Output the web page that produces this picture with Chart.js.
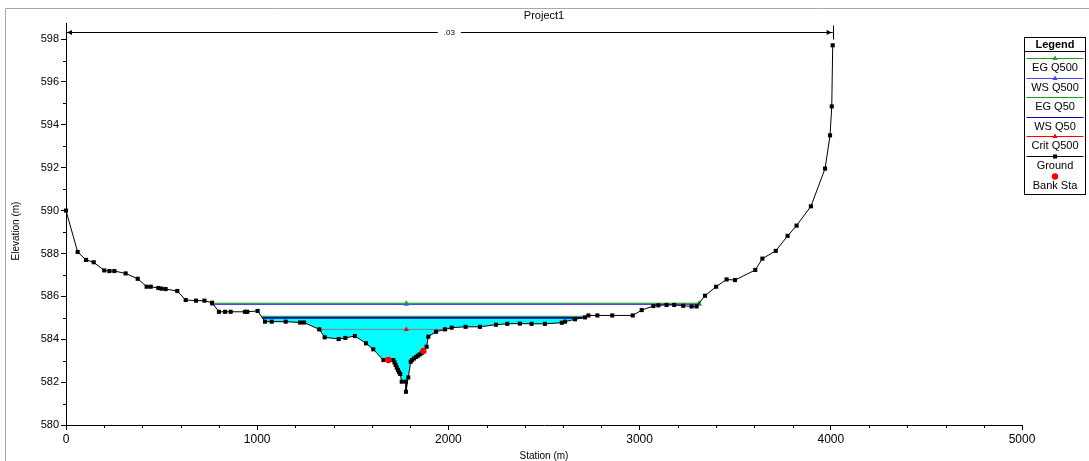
<!DOCTYPE html>
<html>
<head>
<meta charset="utf-8">
<title>Project1</title>
<script src="https://cdn.jsdelivr.net/npm/chart.js@4.4.1/dist/chart.umd.min.js"></script>
<style>
  html, body { margin: 0; padding: 0; background: #fff; }
  #wrap { width: 1089px; height: 461px; }
</style>
</head>
<body>
<div id="wrap"><canvas id="xsChart" width="1089" height="461"></canvas></div>
<script>
// cross section: ground survey (station m, elevation m)
const groundSta = [
  0, 61, 105, 145, 200, 227, 253, 312, 375, 422, 443, 483, 500, 521, 582, 626,
  680, 724, 764, 800, 832, 861, 936, 948, 1002, 1041, 1076, 1149, 1224, 1245,
  1325, 1353, 1426, 1461, 1511, 1569, 1607, 1660, 1686, 1712, 1718, 1724, 1730,
  1736, 1742, 1748, 1756, 1778, 1778, 1790, 1803, 1810, 1820, 1830, 1840, 1850,
  1860, 1869, 1886, 1895, 1935, 1982, 2017, 2090, 2165, 2249, 2308, 2374, 2435,
  2505, 2593, 2610, 2662, 2714, 2732, 2779, 2857, 2964, 3011, 3072, 3098, 3141,
  3181, 3228, 3272, 3298, 3342, 3400, 3455, 3499, 3605, 3642, 3712, 3774, 3821,
  3896, 3970, 3996, 4005, 4010
];
const groundElev = [
  590.00, 588.07, 587.70, 587.59, 587.21, 587.18, 587.18, 587.07, 586.82, 586.45,
  586.45, 586.39, 586.36, 586.34, 586.25, 585.83, 585.80, 585.80, 585.70, 585.28,
  585.28, 585.28, 585.28, 585.28, 585.32, 584.82, 584.82, 584.82, 584.78, 584.78,
  584.46, 584.09, 584.01, 584.06, 584.15, 583.81, 583.53, 583.03, 583.03, 583.03,
  582.92, 582.80, 582.68, 582.57, 582.47, 582.38, 582.02, 582.02, 581.55, 582.22,
  582.95, 583.03, 583.10, 583.17, 583.23, 583.29, 583.35, 583.45, 583.65, 584.12,
  584.35, 584.46, 584.54, 584.58, 584.58, 584.68, 584.72, 584.73, 584.72, 584.72,
  584.77, 584.82, 584.93, 585.02, 585.11, 585.11, 585.11, 585.11, 585.36, 585.55,
  585.58, 585.60, 585.60, 585.56, 585.53, 585.53, 586.03, 586.45, 586.79, 586.76,
  587.23, 587.76, 588.12, 588.82, 589.30, 590.20, 591.96, 593.51, 594.86, 597.71
];

// bank stations
const bankSta = [1686, 1869];
const bankElev = [583.03, 583.45];

// water surface profiles
const egQ500Sta = [767, 1780, 3311];
const egQ500Elev = 585.68;
const wsQ500Sta = [767, 1780, 3311];
const wsQ500Elev = 585.63;
const egQ50Sta = [1022, 2706];
const egQ50Elev = 585.07;
const wsQ50Sta = [1027, 2702];
const wsQ50Elev = 585.0;
const critQ500Sta = [1325, 1780, 1982];
const critQ500Elev = 584.46;

// Manning's n band across the top
const nLabels = ['.03'];
const nSta = [0, 4010];
const nElev = 598.35;

const xTicks = [0, 1000, 2000, 3000, 4000, 5000];
const yTicks = [580, 582, 584, 586, 588, 590, 592, 594, 596, 598];

const FONT = '"Liberation Sans", Arial, sans-serif';
const NARROW = '"Liberation Sans Narrow", "Liberation Sans", Arial, sans-serif';

const xy = (xs, ys) => xs.map((x, i) => ({ x: x, y: Array.isArray(ys) ? ys[i] : ys }));

// wetted area under WS Q50: along the water line, then back along the ground
const waterPoly = xy(wsQ50Sta, wsQ50Elev);
for (let i = groundSta.length - 1; i >= 0; i--) {
  if (groundSta[i] > wsQ50Sta[0] && groundSta[i] < wsQ50Sta[1]) {
    waterPoly.push({ x: groundSta[i], y: groundElev[i] });
  }
}

const green = '#18a018';
const blue = '#4646ff';
const darkBlue = '#0000c0';
const red = '#ff0000';

const datasets = [
  { label: 'Bank Sta', data: xy(bankSta, bankElev), showLine: false, pointStyle: 'circle',
    pointRadius: 3.2, backgroundColor: red, borderColor: red, pointBorderWidth: 0, order: 0,
    legend: { marker: 'circle', line: false, idx: 6 } },
  { label: 'Ground', data: xy(groundSta, groundElev), showLine: true, borderColor: '#000',
    borderWidth: 1, pointStyle: 'rect', pointRadius: 2.9, backgroundColor: '#000',
    pointBorderWidth: 0, clip: false, order: 1, legend: { marker: 'rect', line: true, idx: 5 } },
  { label: 'EG Q500', data: xy(egQ500Sta, egQ500Elev), showLine: true, borderColor: green,
    borderWidth: 1, pointStyle: 'triangle', pointRadius: 3, backgroundColor: green,
    pointBorderWidth: 0, order: 2, legend: { marker: 'triangle', line: true, idx: 0 } },
  { label: 'WS Q500', data: xy(wsQ500Sta, wsQ500Elev), showLine: true, borderColor: blue,
    borderWidth: 1.5, pointStyle: 'triangle', pointRadius: 3, backgroundColor: blue,
    pointBorderWidth: 0, order: 3, legend: { marker: 'triangle', line: true, idx: 1 } },
  { label: 'EG Q50', data: xy(egQ50Sta, egQ50Elev), showLine: true, borderColor: green,
    borderWidth: 1, pointRadius: 0, order: 4, legend: { marker: null, line: true, idx: 2 } },
  { label: 'WS Q50', data: xy(wsQ50Sta, wsQ50Elev), showLine: true, borderColor: darkBlue,
    borderWidth: 2, pointRadius: 0, order: 5, legend: { marker: null, line: true, idx: 3 } },
  { label: 'Crit Q500', data: xy(critQ500Sta, critQ500Elev), showLine: true,
    borderColor: 'rgba(255,0,0,0.5)', borderWidth: 1, pointStyle: 'triangle', pointRadius: 3,
    backgroundColor: red, pointBorderWidth: 0, order: 6,
    legend: { marker: 'triangle', line: true, idx: 4, color: red } },
  { label: 'water', data: waterPoly, showLine: true, fill: 'shape', backgroundColor: '#00ffff',
    borderWidth: 0, borderColor: 'rgba(0,0,0,0)', pointRadius: 0, order: 9 }
];

const decor = {
  id: 'decor',
  beforeDraw(chart) {
    const ctx = chart.ctx;
    ctx.save();
    ctx.fillStyle = '#fff';
    ctx.fillRect(0, 0, chart.width, chart.height);
    ctx.strokeStyle = '#a8a8a8';
    ctx.lineWidth = 1;
    ctx.beginPath();
    ctx.moveTo(5.5, chart.height);
    ctx.lineTo(5.5, 8.5);
    ctx.lineTo(chart.width, 8.5);
    ctx.stroke();
    ctx.restore();
  },
  afterDraw(chart) {
    const ctx = chart.ctx;
    const xs = chart.scales.x, ys = chart.scales.y;
    const area = chart.chartArea;
    ctx.save();
    ctx.fillStyle = '#000';
    ctx.strokeStyle = '#000';

    // title
    ctx.font = '11px ' + FONT;
    ctx.textAlign = 'center';
    ctx.textBaseline = 'middle';
    ctx.fillText('Project1', (area.left + area.right) / 2, 16);

    // Manning's n arrow line
    const ny = Math.round(ys.getPixelForValue(nElev)) + 0.5;
    const nx0 = xs.getPixelForValue(nSta[0]);
    const nx1 = xs.getPixelForValue(nSta[1]);
    const nxm = (nx0 + nx1) / 2;
    ctx.font = '8px ' + FONT;
    const tw = ctx.measureText(nLabels[0]).width / 2 + 6;
    ctx.lineWidth = 1;
    ctx.beginPath();
    ctx.moveTo(nx0, ny); ctx.lineTo(nxm - tw, ny);
    ctx.moveTo(nxm + tw, ny); ctx.lineTo(nx1, ny);
    ctx.stroke();
    ctx.fillText(nLabels[0], nxm, ny + 0.5);
    ctx.beginPath();
    ctx.moveTo(nx0 + 1, ny); ctx.lineTo(nx0 + 6, ny - 2.5); ctx.lineTo(nx0 + 6, ny + 2.5);
    ctx.closePath(); ctx.fill();
    ctx.beginPath();
    ctx.moveTo(nx1 - 1, ny); ctx.lineTo(nx1 - 6, ny - 2.5); ctx.lineTo(nx1 - 6, ny + 2.5);
    ctx.closePath(); ctx.fill();
    ctx.beginPath();
    ctx.moveTo(Math.round(nx1) + 0.5, ny - 7); ctx.lineTo(Math.round(nx1) + 0.5, ny + 7);
    ctx.stroke();

    // minor ticks
    ctx.beginPath();
    for (let v = 200; v < 5000; v += 200) {
      if (v % 1000 === 0) continue;
      const px = Math.round(xs.getPixelForValue(v)) + 0.5;
      ctx.moveTo(px, area.bottom); ctx.lineTo(px, area.bottom + 3);
    }
    for (let v = 581; v < 599; v += 2) {
      const py = Math.round(ys.getPixelForValue(v)) + 0.5;
      ctx.moveTo(area.left - 3, py); ctx.lineTo(area.left, py);
    }
    ctx.stroke();

    // axis titles
    ctx.font = '10px ' + FONT;
    ctx.fillText('Station (m)', (area.left + area.right) / 2, 456);
    ctx.save();
    ctx.translate(16, 231);
    ctx.rotate(-Math.PI / 2);
    ctx.fillText('Elevation (m)', 0, 0);
    ctx.restore();

    // legend box
    const lx0 = 1024.5, lx1 = 1085.5, ly0 = 37.5, ly1 = 194.5;
    const cx = (lx0 + lx1) / 2;
    ctx.lineWidth = 1;
    ctx.strokeRect(lx0, ly0, lx1 - lx0, ly1 - ly0);
    ctx.beginPath();
    ctx.moveTo(lx0, 51.5); ctx.lineTo(lx1, 51.5);
    ctx.stroke();
    ctx.font = 'bold 11px ' + FONT;
    ctx.fillText('Legend', cx, 45);
    ctx.font = '11px ' + FONT;
    const items = chart.data.datasets.filter(d => d.legend)
      .sort((a, b) => a.legend.idx - b.legend.idx);
    items.forEach((d, i) => {
      const ly = Math.round(58 + i * 19.6) + 0.5;
      const col = d.legend.color || d.borderColor;
      if (d.legend.line) {
        ctx.strokeStyle = col;
        ctx.lineWidth = 1;
        ctx.beginPath();
        ctx.moveTo(lx0 + 2, ly); ctx.lineTo(lx1 - 2, ly);
        ctx.stroke();
      }
      if (d.legend.marker) {
        ctx.fillStyle = d.backgroundColor;
        ctx.strokeStyle = d.backgroundColor;
        Chart.helpers.drawPoint(ctx, {
          pointStyle: d.legend.marker, radius: d.pointRadius, rotation: 0, borderWidth: 0
        }, cx, ly);
      }
      ctx.fillStyle = '#000';
      ctx.fillText(d.label, cx, 68 + i * 19.6);
    });
    ctx.restore();
  }
};

const ctx = document.getElementById('xsChart');

let chart = new Chart(ctx, {
  type: 'scatter',
  data: { datasets: datasets },
  options: {
    responsive: false,
    animation: false,
    events: [],
    layout: { padding: { left: 0, top: 23, right: 67, bottom: 0 } },
    elements: { line: { tension: 0 } },
    plugins: {
      legend: { display: false },
      tooltip: { enabled: false },
      title: { display: false }
    },
    scales: {
      x: {
        type: 'linear',
        min: 0,
        max: 5000,
        afterFit: s => { s.height = 36; },
        afterBuildTicks: s => { s.ticks = xTicks.map(v => ({ value: v })); },
        grid: { drawOnChartArea: false, color: '#000', tickLength: 5 },
        border: { color: '#000', width: 1 },
        ticks: {
          color: '#000', padding: 2, maxRotation: 0,
          font: { family: NARROW, size: 12 },
          callback: v => String(v)
        }
      },
      y: {
        type: 'linear',
        min: 580,
        max: 598.75,
        afterFit: s => { s.width = 66; },
        afterBuildTicks: s => { s.ticks = yTicks.map(v => ({ value: v })); },
        grid: { drawOnChartArea: false, color: '#000', tickLength: 5 },
        border: { color: '#000', width: 1 },
        ticks: {
          color: '#000', padding: 2,
          font: { family: FONT, size: 11 },
          callback: v => String(v)
        }
      }
    }
  },
  plugins: [decor]
});
</script>
</body>
</html>
